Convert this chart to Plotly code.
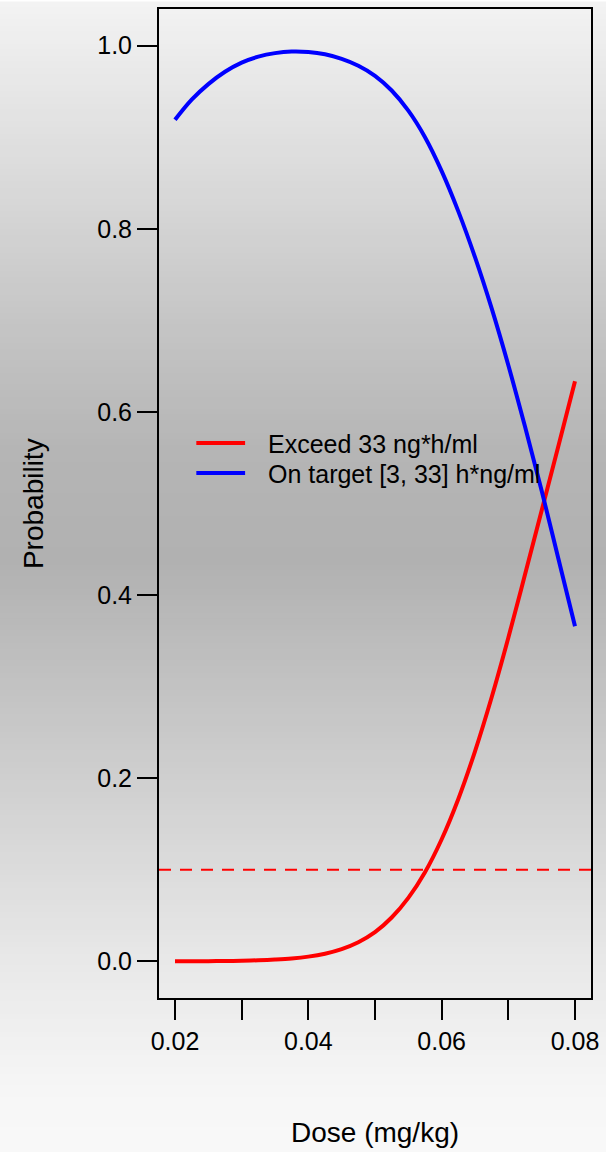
import plotly.graph_objects as go

# ---- data ----
dose = [0.0200, 0.0225, 0.0250, 0.0275, 0.0300, 0.0325, 0.0350, 0.0375, 0.0400,
        0.0425, 0.0450, 0.0475, 0.0500, 0.0525, 0.0550, 0.0575, 0.0600, 0.0625,
        0.0650, 0.0675, 0.0700, 0.0725, 0.0750, 0.0775, 0.0800]
p_exceed = [0.0000, 0.0001, 0.0002, 0.0004, 0.0007, 0.0012, 0.0020, 0.0032, 0.0052,
            0.0084, 0.0134, 0.0209, 0.0319, 0.0479, 0.0694, 0.0974, 0.1334, 0.1774,
            0.2294, 0.2884, 0.3534, 0.4224, 0.4924, 0.5624, 0.6334]
p_target = [0.9190, 0.9410, 0.9580, 0.9715, 0.9815, 0.9880, 0.9918, 0.9935, 0.9930,
            0.9905, 0.9855, 0.9780, 0.9670, 0.9510, 0.9290, 0.9000, 0.8630, 0.8190,
            0.7690, 0.7130, 0.6510, 0.5840, 0.5140, 0.4400, 0.3660]
threshold = 0.1
series_names = ["Exceed 33 ng*h/ml", "On target [3, 33] h*ng/ml"]
series_colors = ["#ff0000", "#0000ff"]
x_ticks = [0.02, 0.03, 0.04, 0.05, 0.06, 0.07, 0.08]
x_ticktext = ["0.02", "", "0.04", "", "0.06", "", "0.08"]
y_ticks = [0.0, 0.2, 0.4, 0.6, 0.8, 1.0]
y_ticktext = ["0.0", "0.2", "0.4", "0.6", "0.8", "1.0"]

W, H = 606, 1152
ML, MR, MT, MB = 158.5, 13.5, 7, 154
PW = W - ML - MR
PH = H - MT - MB

def px_to_paper_y(ypx):
    return (H - MB - ypx) / PH

def px_to_paper_x(xpx):
    return (xpx - ML) / PW

# background gradient (vertical, light -> gray -> light)
grad_keys = [(0, 243), (150, 222), (330, 196), (450, 181), (560, 177),
             (960, 232), (1100, 247), (1152, 248)]

def grad_val(y):
    for (y0, v0), (y1, v1) in zip(grad_keys[:-1], grad_keys[1:]):
        if y0 <= y <= y1:
            return v0 + (v1 - v0) * (y - y0) / (y1 - y0)
    return grad_keys[-1][1]

shapes = []
step = 6
for yy in range(0, H, step):
    v = int(round(grad_val(yy + step / 2)))
    shapes.append(dict(type="rect", xref="paper", yref="paper",
                       x0=px_to_paper_x(-2), x1=px_to_paper_x(W + 2),
                       y0=px_to_paper_y(yy + step + 0.5), y1=px_to_paper_y(yy - 0.5),
                       fillcolor=f"rgb({v},{v},{v})", line=dict(width=0),
                       layer="below"))

# threshold dashed line
shapes.append(dict(type="line", xref="paper", yref="y", x0=0, x1=1,
                   y0=threshold, y1=threshold,
                   line=dict(color="#ff0000", width=2, dash="12px,9px")))

fig = go.Figure()
fig.add_trace(go.Scatter(x=dose, y=p_exceed, mode="lines", name=series_names[0],
                         line=dict(color=series_colors[0], width=4, shape="spline")))
fig.add_trace(go.Scatter(x=dose, y=p_target, mode="lines", name=series_names[1],
                         line=dict(color=series_colors[1], width=4, shape="spline")))

# manual legend
annotations = []
leg_y = [442, 472]
for name, col, ly in zip(series_names, series_colors, leg_y):
    shapes.append(dict(type="line", xref="paper", yref="paper",
                       x0=px_to_paper_x(196), x1=px_to_paper_x(245),
                       y0=px_to_paper_y(ly), y1=px_to_paper_y(ly),
                       line=dict(color=col, width=4)))
    annotations.append(dict(text=name, xref="paper", yref="paper",
                            x=px_to_paper_x(266), y=px_to_paper_y(ly + 1),
                            xanchor="left", yanchor="middle", showarrow=False,
                            font=dict(size=25, color="black")))

annotations.append(dict(text="Probability", xref="paper", yref="paper",
                        x=px_to_paper_x(33), y=px_to_paper_y(503), textangle=-90,
                        xanchor="center", yanchor="middle", showarrow=False,
                        font=dict(size=28, color="black")))
annotations.append(dict(text="Dose (mg/kg)", xref="paper", yref="paper",
                        x=px_to_paper_x(376), y=px_to_paper_y(1133),
                        xanchor="center", yanchor="middle", showarrow=False,
                        font=dict(size=28, color="black")))

fig.update_layout(
    width=W, height=H,
    margin=dict(l=ML, r=MR, t=MT, b=MB, pad=0),
    paper_bgcolor="rgba(0,0,0,0)", plot_bgcolor="rgba(0,0,0,0)",
    showlegend=False,
    font=dict(family="Liberation Sans, Arial, sans-serif", size=25, color="black"),
    shapes=shapes, annotations=annotations,
    xaxis=dict(range=[0.0176, 0.0824], tickvals=x_ticks, ticktext=x_ticktext,
               ticks="outside", ticklen=20, tickwidth=2, tickcolor="black",
               showline=True, linecolor="black", linewidth=2, mirror=True,
               showgrid=False, zeroline=False, tickfont=dict(size=25)),
    yaxis=dict(range=[-0.04, 1.04], tickvals=y_ticks, ticktext=y_ticktext,
               ticks="outside", ticklen=20, tickwidth=2, tickcolor="black",
               showline=True, linecolor="black", linewidth=2, mirror=True,
               showgrid=False, zeroline=False, tickfont=dict(size=25)),
)

fig.write_html("out.html")
